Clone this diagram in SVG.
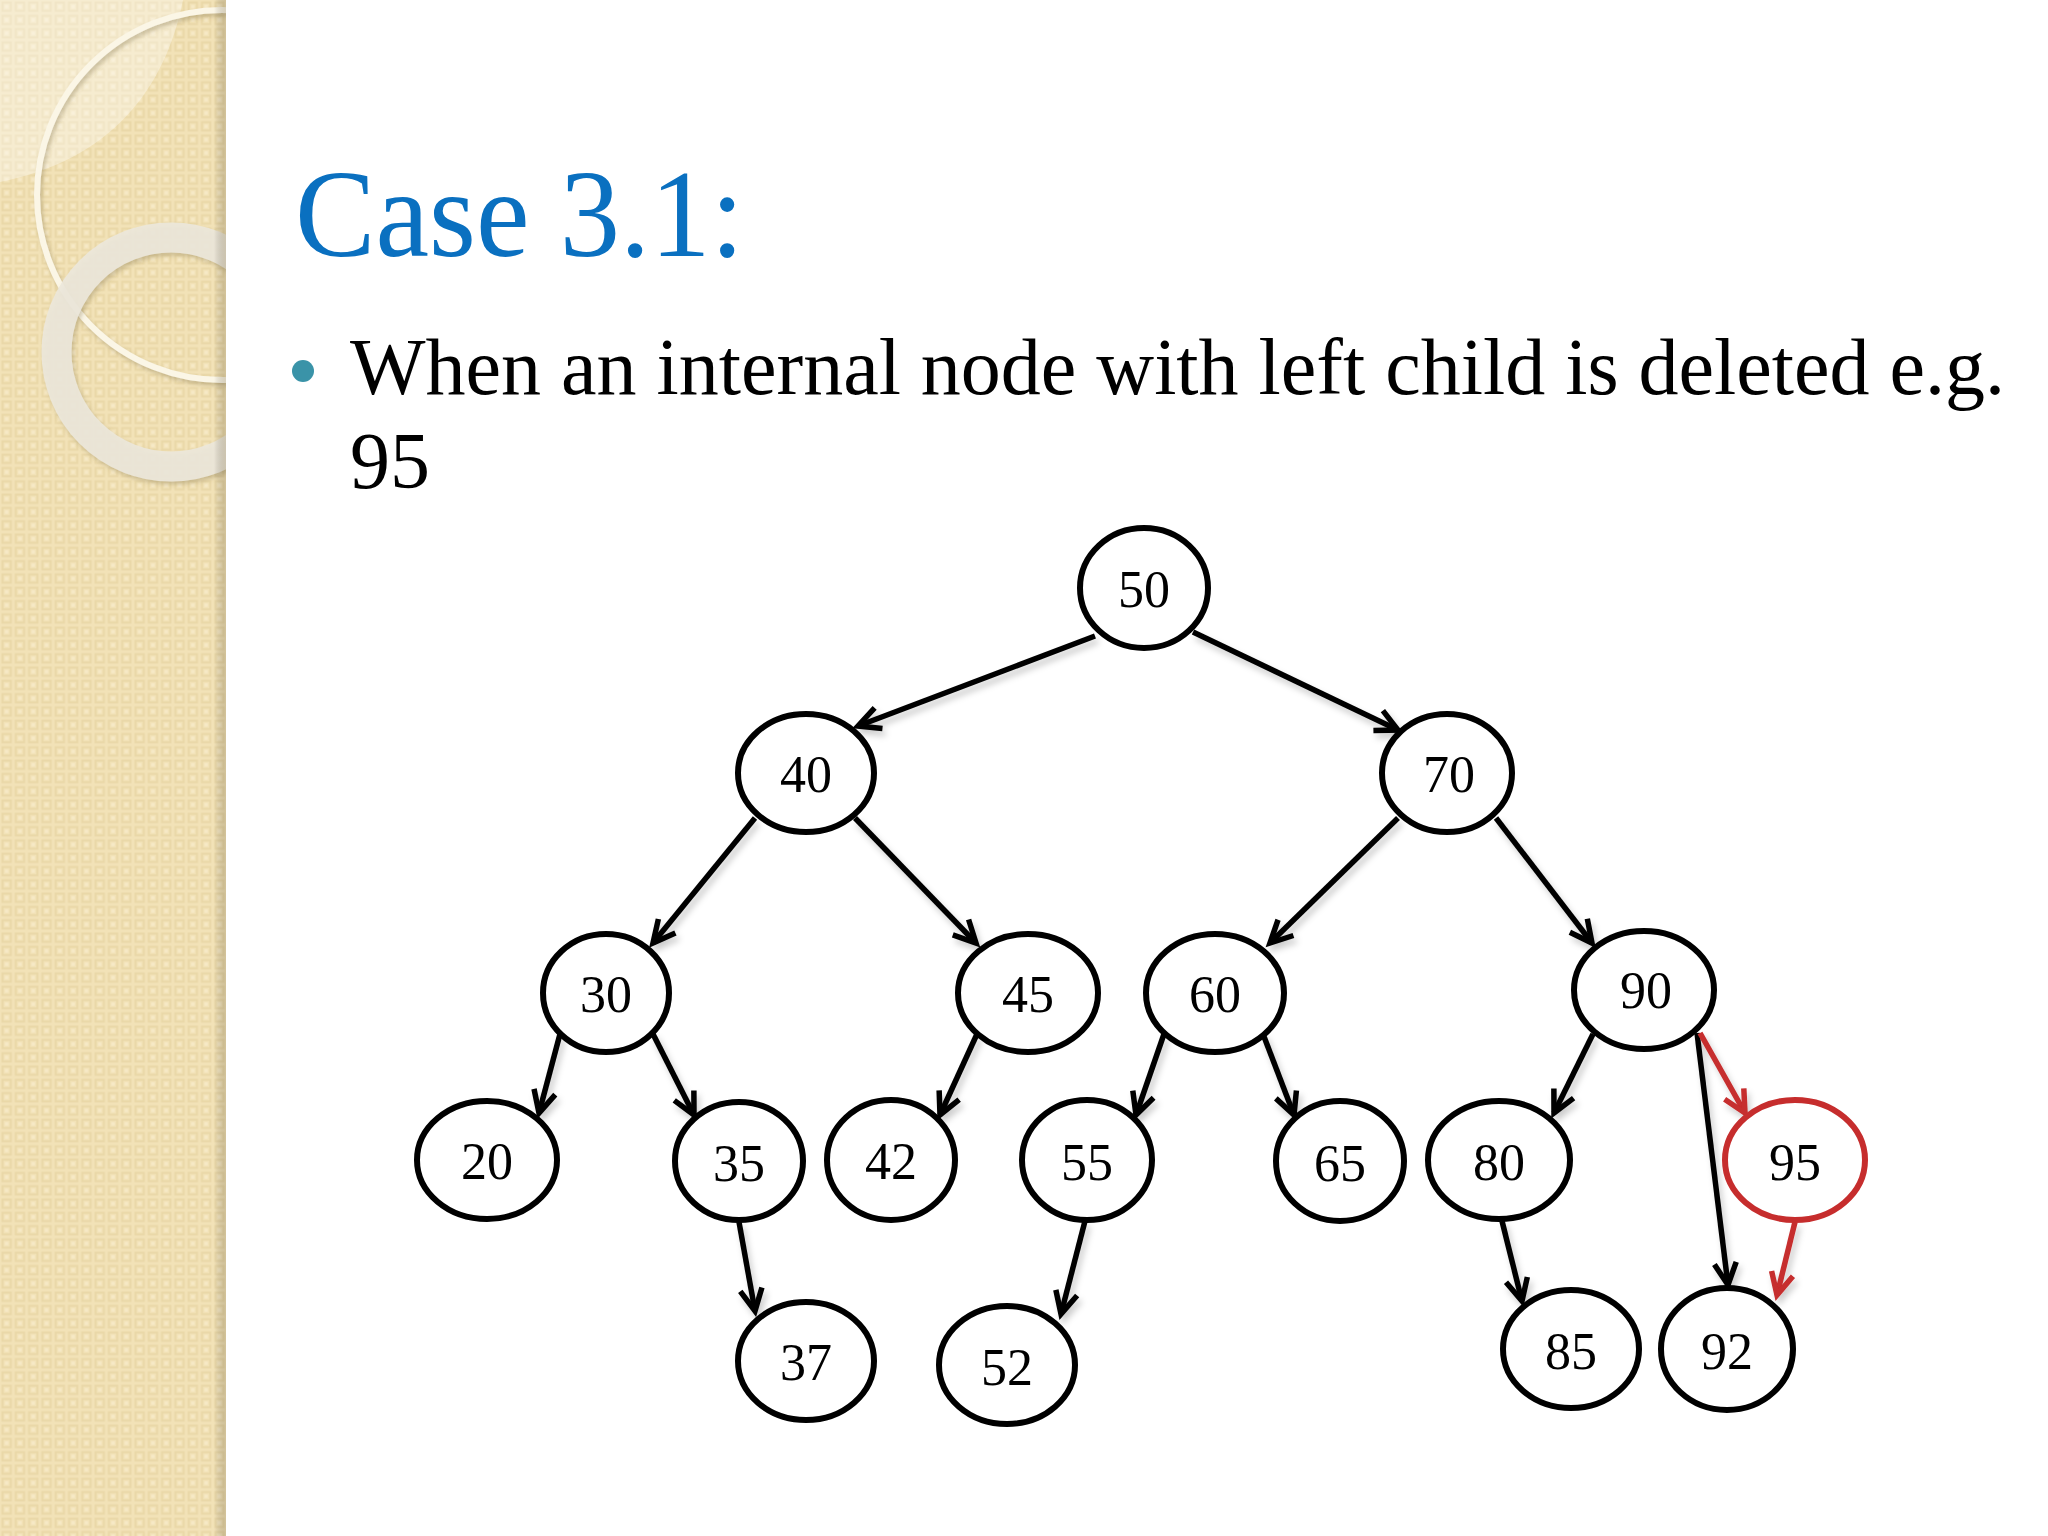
<svg xmlns="http://www.w3.org/2000/svg" width="2048" height="1536" viewBox="0 0 2048 1536">
<defs>
<pattern id="chk" width="13.3" height="13.3" patternUnits="userSpaceOnUse">
<rect width="13.3" height="13.3" fill="#F2E2B7"/>
<rect x="2.5" y="2.5" width="8.3" height="8.3" fill="none" stroke="#EAD8A8" stroke-width="2"/>
<rect x="5" y="5" width="3.3" height="3.3" fill="#F6E9C6"/>
</pattern>
<linearGradient id="edge" x1="0" y1="0" x2="1" y2="0">
<stop offset="0" stop-color="#000" stop-opacity="0"/>
<stop offset="1" stop-color="#8a7a55" stop-opacity="0.3"/>
</linearGradient>
<marker id="ah" markerUnits="userSpaceOnUse" markerWidth="32" markerHeight="32" viewBox="0 0 32 32" refX="25" refY="15" orient="auto" overflow="visible">
<path d="M3,4 L25,15 L3,26" fill="none" stroke="#000" stroke-width="5.5"/>
</marker>
<marker id="ahr" markerUnits="userSpaceOnUse" markerWidth="32" markerHeight="32" viewBox="0 0 32 32" refX="25" refY="15" orient="auto" overflow="visible">
<path d="M3,4 L25,15 L3,26" fill="none" stroke="#C62D2D" stroke-width="5.5"/>
</marker>
<filter id="sh" x="-20%" y="-20%" width="140%" height="140%">
<feDropShadow dx="3" dy="5" stdDeviation="3" flood-color="#000" flood-opacity="0.2"/>
</filter>
<filter id="rsh" x="-20%" y="-20%" width="140%" height="140%">
<feDropShadow dx="2" dy="3" stdDeviation="2" flood-color="#7a6a40" flood-opacity="0.35"/>
</filter>
<clipPath id="panel"><rect x="0" y="0" width="226" height="1536"/></clipPath>
</defs>
<style>
.nd{fill:#fff;stroke:#000;stroke-width:6}
.ndr{fill:#fff;stroke:#C62D2D;stroke-width:6}
.lb{font-family:"Liberation Serif","Times New Roman",serif;font-size:52px;text-anchor:middle;fill:#000}
.ser{font-family:"Liberation Serif","Times New Roman",serif}
.ed{fill:none;stroke:#000;stroke-width:5.5;marker-end:url(#ah)}
.edr{fill:none;stroke:#C62D2D;stroke-width:5.5;marker-end:url(#ahr)}
</style>
<rect width="2048" height="1536" fill="#fff"/>
<g id="decor" clip-path="url(#panel)">
<rect x="0" y="0" width="226" height="1536" fill="url(#chk)"/>
<path d="M0,0 L183,0 C165,90 110,160 0,182 Z" fill="#fff" fill-opacity="0.35"/>
<circle cx="222" cy="195" r="185" fill="none" stroke="#FBF6E6" stroke-width="6" filter="url(#rsh)"/>
<circle cx="171" cy="352" r="114.5" fill="none" stroke="#ECE8DC" stroke-opacity="0.9" stroke-width="30" filter="url(#rsh)"/>
<rect x="214" y="0" width="12" height="1536" fill="url(#edge)"/>
</g>
<g id="title">
<text class="ser" x="295" y="256" font-size="124" fill="#0A70C0" textLength="449" lengthAdjust="spacingAndGlyphs">Case 3.1:</text>
</g>
<g id="bullet">
<circle cx="303" cy="371" r="11" fill="#3A93A8"/>
<text class="ser" x="350" y="394" font-size="80" fill="#000">When an internal node with left child is deleted e.g.</text>
<text class="ser" x="350" y="488" font-size="80" fill="#000">95</text>
</g>
<g id="connectors" filter="url(#sh)">
<line class="ed" x1="1095" y1="636" x2="858" y2="726"/>
<line class="ed" x1="1193" y1="632" x2="1398" y2="730"/>
<line class="ed" x1="755" y1="818" x2="653" y2="943"/>
<line class="ed" x1="855" y1="818" x2="976" y2="943"/>
<line class="ed" x1="1398" y1="818" x2="1270" y2="943"/>
<line class="ed" x1="1496" y1="818" x2="1592" y2="943"/>
<line class="ed" x1="560" y1="1034" x2="539" y2="1113"/>
<line class="ed" x1="653" y1="1034" x2="694" y2="1115"/>
<line class="ed" x1="977" y1="1034" x2="940" y2="1115"/>
<line class="ed" x1="1164" y1="1034" x2="1136" y2="1115"/>
<line class="ed" x1="1263" y1="1034" x2="1294" y2="1115"/>
<line class="ed" x1="1593" y1="1034" x2="1554" y2="1113"/>
<line class="ed" x1="1697" y1="1033" x2="1728" y2="1285"/>
<line class="ed" x1="739" y1="1222" x2="755" y2="1311"/>
<line class="ed" x1="1085" y1="1221" x2="1061" y2="1314"/>
<line class="ed" x1="1502" y1="1221" x2="1522" y2="1301"/>
<line class="edr" x1="1700" y1="1033" x2="1745" y2="1113"/>
<line class="edr" x1="1795" y1="1222" x2="1777" y2="1295"/>
</g>
<g id="n50"><ellipse class="nd" cx="1144" cy="588" rx="64" ry="60"/><text class="lb" x="1144" y="607">50</text></g>
<g id="n40"><ellipse class="nd" cx="806" cy="773" rx="68" ry="59"/><text class="lb" x="806" y="792">40</text></g>
<g id="n70"><ellipse class="nd" cx="1447" cy="773" rx="65" ry="59"/><text class="lb" x="1449" y="792">70</text></g>
<g id="n30"><ellipse class="nd" cx="606" cy="993" rx="63" ry="59"/><text class="lb" x="606" y="1012">30</text></g>
<g id="n45"><ellipse class="nd" cx="1028" cy="993" rx="70" ry="59"/><text class="lb" x="1028" y="1012">45</text></g>
<g id="n60"><ellipse class="nd" cx="1215" cy="993" rx="69" ry="59"/><text class="lb" x="1215" y="1012">60</text></g>
<g id="n90"><ellipse class="nd" cx="1644" cy="990" rx="70" ry="59"/><text class="lb" x="1646" y="1008">90</text></g>
<g id="n20"><ellipse class="nd" cx="487" cy="1160" rx="70" ry="59"/><text class="lb" x="487" y="1179">20</text></g>
<g id="n35"><ellipse class="nd" cx="739" cy="1161" rx="64" ry="59"/><text class="lb" x="739" y="1181">35</text></g>
<g id="n42"><ellipse class="nd" cx="891" cy="1160" rx="64" ry="60"/><text class="lb" x="891" y="1179">42</text></g>
<g id="n55"><ellipse class="nd" cx="1087" cy="1160" rx="65" ry="60"/><text class="lb" x="1087" y="1180">55</text></g>
<g id="n65"><ellipse class="nd" cx="1340" cy="1161" rx="64" ry="60"/><text class="lb" x="1340" y="1181">65</text></g>
<g id="n80"><ellipse class="nd" cx="1499" cy="1160" rx="71" ry="59"/><text class="lb" x="1499" y="1180">80</text></g>
<g id="n95"><ellipse class="ndr" cx="1795" cy="1160" rx="70" ry="60"/><text class="lb" x="1795" y="1180">95</text></g>
<g id="n37"><ellipse class="nd" cx="806" cy="1361" rx="68" ry="59"/><text class="lb" x="806" y="1380">37</text></g>
<g id="n52"><ellipse class="nd" cx="1007" cy="1365" rx="68" ry="59"/><text class="lb" x="1007" y="1385">52</text></g>
<g id="n85"><ellipse class="nd" cx="1571" cy="1349" rx="68" ry="59"/><text class="lb" x="1571" y="1369">85</text></g>
<g id="n92"><ellipse class="nd" cx="1727" cy="1349" rx="66" ry="61"/><text class="lb" x="1727" y="1369">92</text></g>
</svg>
